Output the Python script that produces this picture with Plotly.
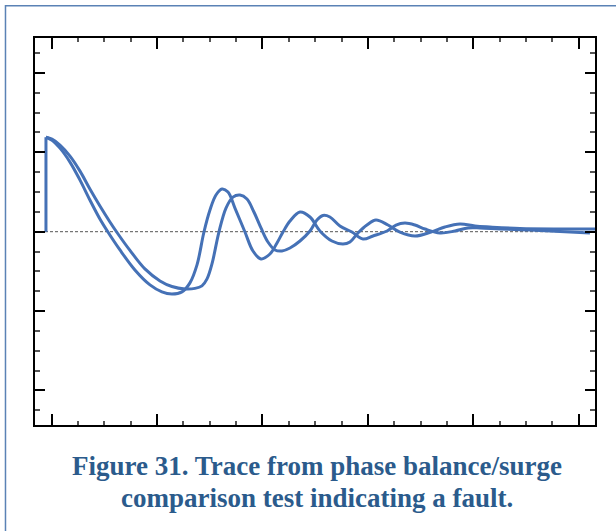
import plotly.graph_objects as go

# ---- data (time in µs, normalised voltage) ----
t_a = [-0.54, 0.03, 0.79, 1.74, 2.69, 3.63, 4.58, 5.34, 6.48, 7.90, 9.33, 10.46, 11.41, 12.36,
       13.12, 13.79, 14.45, 15.02, 15.59, 16.16, 16.73, 17.39, 18.34, 19.10, 19.86, 20.71,
       21.38, 21.95, 22.61, 23.56, 24.51, 25.45, 26.59, 27.64, 28.30, 29.06, 29.91, 30.77,
       31.91, 33.04, 34.47, 35.99, 37.31, 38.74, 40.16, 41.58, 44.43, 48.22, 51.93]
v_a = [1.19, 1.153, 1.053, 0.877, 0.650, 0.399, 0.160, -0.004, -0.230, -0.482, -0.670, -0.758,
       -0.784, -0.758, -0.645, -0.418, -0.004, 0.273, 0.462, 0.537, 0.499, 0.298, -0.004,
       -0.243, -0.343, -0.281, -0.142, -0.004, 0.135, 0.248, 0.185, 0.009, -0.117, -0.155,
       -0.130, -0.016, 0.084, 0.147, 0.084, -0.004, -0.054, -0.004, 0.059, 0.097, 0.072,
       0.059, 0.040, 0.034, 0.034]

t_b = [-0.54, 0.03, 0.79, 1.74, 2.69, 3.63, 4.58, 5.53, 6.20, 7.43, 8.85, 10.28, 11.41, 12.65,
       13.60, 14.26, 14.74, 15.21, 15.87, 16.54, 17.20, 17.87, 18.53, 19.19, 19.86, 20.52,
       21.19, 21.85, 22.61, 23.56, 24.51, 25.17, 25.74, 26.40, 27.35, 28.49, 29.54, 30.49,
       31.82, 32.67, 33.52, 34.47, 35.42, 36.84, 38.27, 39.50, 40.64, 42.54, 45.38, 48.22, 51.07]
v_b = [1.19, 1.166, 1.091, 0.952, 0.763, 0.537, 0.323, 0.122, -0.010, -0.236, -0.469, -0.620,
       -0.690, -0.721, -0.714, -0.683, -0.595, -0.406, -0.004, 0.298, 0.436, 0.462, 0.411,
       0.248, 0.047, -0.130, -0.230, -0.243, -0.205, -0.117, 0.009, 0.147, 0.204, 0.185,
       0.072, -0.004, -0.092, -0.054, 0.009, 0.084, 0.109, 0.084, 0.034, -0.016, 0.009,
       0.047, 0.047, 0.034, 0.021, 0.003, -0.016]

step_t = [t_a[0], t_a[0]]
step_v = [0.0, v_a[0]]

caption_1 = "Figure 31. Trace from phase balance/surge"
caption_2 = "comparison test indicating a fault."

x_range = [-1.58, 51.55]
y_range = [-2.435, 2.44]

# ---- styling ----
trace_color = "#4571b6"
caption_color = "#2b5b8c"

fig = go.Figure()
fig.add_trace(go.Scatter(x=step_t, y=step_v, mode="lines",
                         line=dict(color=trace_color, width=3), hoverinfo="skip", showlegend=False))
fig.add_trace(go.Scatter(x=t_b, y=v_b, mode="lines",
                         line=dict(color=trace_color, width=3, shape="spline", smoothing=1.0),
                         showlegend=False))
fig.add_trace(go.Scatter(x=t_a, y=v_a, mode="lines",
                         line=dict(color=trace_color, width=3, shape="spline", smoothing=1.0),
                         showlegend=False))

axis_common = dict(
    showticklabels=False, showgrid=False, zeroline=False,
    showline=True, linewidth=2, linecolor="black", mirror="allticks",
    ticks="inside", tickwidth=2, tickcolor="black",
)
fig.update_xaxes(range=x_range, tick0=0, dtick=10, ticklen=11,
                 minor=dict(dtick=2.5, ticks="inside", ticklen=4, tickwidth=1.5,
                            tickcolor="#555555", showgrid=False),
                 **axis_common)
fig.update_yaxes(range=y_range, tick0=0, dtick=1, ticklen=10,
                 minor=dict(dtick=0.25, ticks="inside", ticklen=5, tickwidth=1.5,
                            tickcolor="#555555", showgrid=False),
                 **axis_common)

# zero reference line
fig.add_shape(type="line", xref="paper", yref="y", x0=0, x1=1, y0=0, y1=0,
              line=dict(color="#555555", width=1, dash="3px,2px"), layer="below")

# outer frame
fig.add_shape(type="rect", xref="paper", yref="paper", x0=-0.0527, x1=1.06, y0=-0.32, y1=1.0831,
              line=dict(color="#5a82b5", width=1.5))

fig.add_annotation(text="<b>" + caption_1 + "</b>", xref="paper", yref="paper",
                   x=0.504, y=-0.1063, xanchor="center", yanchor="middle", showarrow=False,
                   font=dict(family="Liberation Serif", size=27, color=caption_color))
fig.add_annotation(text="<b>" + caption_2 + "</b>", xref="paper", yref="paper",
                   x=0.504, y=-0.1880, xanchor="center", yanchor="middle", showarrow=False,
                   font=dict(family="Liberation Serif", size=27, color=caption_color))

fig.update_layout(width=616, height=531, margin=dict(l=35, r=21, t=38, b=106),
                  paper_bgcolor="white", plot_bgcolor="white")

fig.write_html("out.html")
